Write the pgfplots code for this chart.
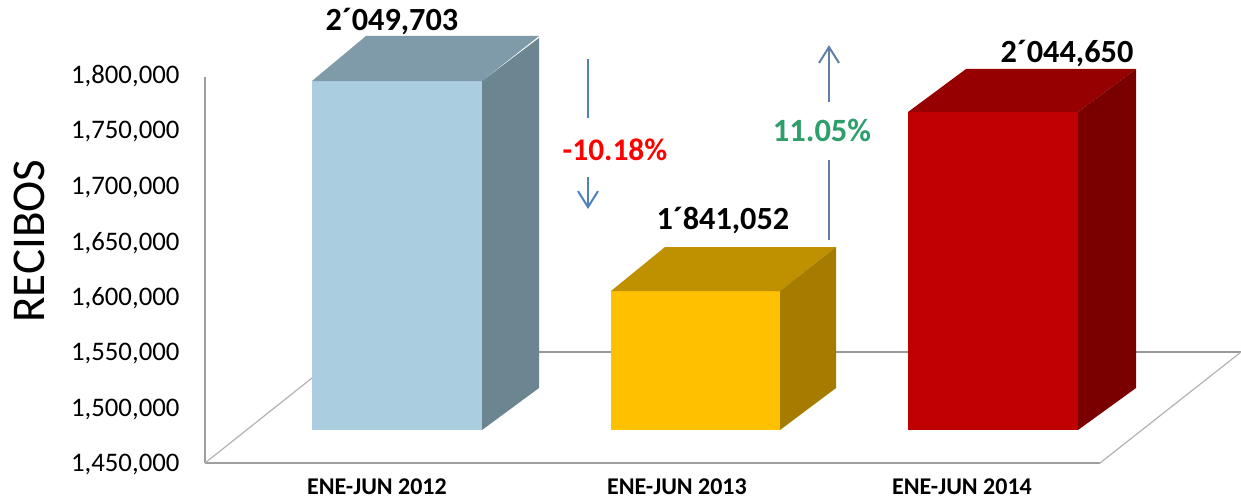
\documentclass[border=0pt]{standalone}
\usepackage{pgfplots}
\pgfplotsset{compat=1.18}
\usepackage{fontspec}
\setmainfont{Carlito}
\usetikzlibrary{arrows.meta}
\definecolor{frontA}{HTML}{AACDDF}
\definecolor{topA}{HTML}{7F9BA9}
\definecolor{sideA}{HTML}{6B8591}
\definecolor{frontB}{HTML}{FFC000}
\definecolor{topB}{HTML}{BF9000}
\definecolor{sideB}{HTML}{A67C00}
\definecolor{frontC}{HTML}{C00000}
\definecolor{topC}{HTML}{960000}
\definecolor{sideC}{HTML}{7A0000}
\definecolor{arrowA}{HTML}{4F81BD}
\definecolor{arrowB}{HTML}{5F7FA8}
\definecolor{pctgreen}{HTML}{2E9E6B}
\begin{document}
\begin{tikzpicture}
\path[use as bounding box] (-205pt,-36pt) rectangle (1036pt,463pt);
\begin{axis}[
  at={(0,0)}, anchor=south west,
  scale only axis, width=1036pt, height=463pt,
  xmin=205, xmax=1241, ymin=1450000, ymax=1866580,
  clip=false,
  axis line style={draw=none},
  tick style={draw=none},
  xtick={377,677,962},
  xticklabels={ENE-JUN 2012,ENE-JUN 2013,ENE-JUN 2014},
  xticklabel style={font=\fontsize{24}{28}\selectfont\bfseries, yshift=-12pt},
  ytick={1450000,1500000,1550000,1600000,1650000,1700000,1750000,1800000},
  scaled y ticks=false,
  yticklabel style={font=\fontsize{26.8}{30}\selectfont, /pgf/number format/fixed, /pgf/number format/1000 sep={,}, /pgf/number format/assume math mode=true, xshift=-22pt, yshift=-2pt},
  ylabel={RECIBOS},
  ylabel style={at={(axis description cs:-0.169,0.479)}, anchor=center, font=\fontsize{47}{52}\selectfont},
]
% wall
\addplot[draw=black!38, line width=2.6pt] coordinates {(205,1450000) (205,1797300)};
% floor
\addplot[draw=black!38, line width=2.6pt] coordinates {(205,1450000) (1100,1450000)};
\addplot[draw=black!30, line width=1.2pt] coordinates {(205,1450000) (312,1526478)};
\addplot[draw=black!40, line width=1.2pt] coordinates {(539,1549871) (1241,1549871)};
\addplot[draw=black!30, line width=1.2pt] coordinates {(1241,1549871) (1100,1450000)};
% bar 1
\addplot[fill=frontA, draw=none] coordinates {(312,1479691) (482,1479691) (482,1793699) (312,1793699)} -- cycle;
\addplot[fill=topA, draw=none] coordinates {(312,1793699) (366,1834189) (539,1834189) (482,1793699)} -- cycle;
\addplot[fill=sideA, draw=none] coordinates {(482,1479691) (539,1517480) (539,1832390) (482,1793699)} -- cycle;
% bar 2
\addplot[fill=frontB, draw=none] coordinates {(611,1479691) (780,1479691) (780,1604755) (611,1604755)} -- cycle;
\addplot[fill=topB, draw=none] coordinates {(611,1604755) (665,1644344) (836,1644344) (780,1604755)} -- cycle;
\addplot[fill=sideB, draw=none] coordinates {(780,1479691) (836,1517480) (836,1644344) (780,1604755)} -- cycle;
% bar 3
\addplot[fill=frontC, draw=none] coordinates {(908,1479691) (1078,1479691) (1078,1765809) (908,1765809)} -- cycle;
\addplot[fill=topC, draw=none] coordinates {(908,1765809) (966,1804498) (1136,1804498) (1078,1765809)} -- cycle;
\addplot[fill=sideC, draw=none] coordinates {(1078,1479691) (1136,1517480) (1136,1804498) (1078,1765809)} -- cycle;
% arrows
\addplot[draw=arrowA, line width=2pt] coordinates {(588,1813500) (588,1760400)};
\addplot[draw=arrowA, line width=2pt, -{Straight Barb[length=16pt,width=20pt,line width=2pt]}] coordinates {(588,1707300) (588,1678534)};
\addplot[draw=arrowB, line width=2pt] coordinates {(829,1650642) (829,1723000)};
\addplot[draw=arrowB, line width=2pt, -{Straight Barb[length=16pt,width=20pt,line width=2pt]}] coordinates {(829,1774800) (829,1826000)};
% value labels
\node[font=\fontsize{32.3}{36}\selectfont\bfseries] at (axis cs:392,1847000) {2´049,703};
\node[font=\fontsize{32.3}{36}\selectfont\bfseries] at (axis cs:1067,1818000) {2´044,650};
\node[font=\fontsize{32.3}{36}\selectfont\bfseries] at (axis cs:723,1668000) {1´841,052};
\node[font=\fontsize{31.4}{35}\selectfont\bfseries, text=red] at (axis cs:615,1732000) {-10.18\%};
\node[font=\fontsize{32.5}{36}\selectfont\bfseries, text=pctgreen] at (axis cs:822,1749000) {11.05\%};
\end{axis}
\end{tikzpicture}
\end{document}
